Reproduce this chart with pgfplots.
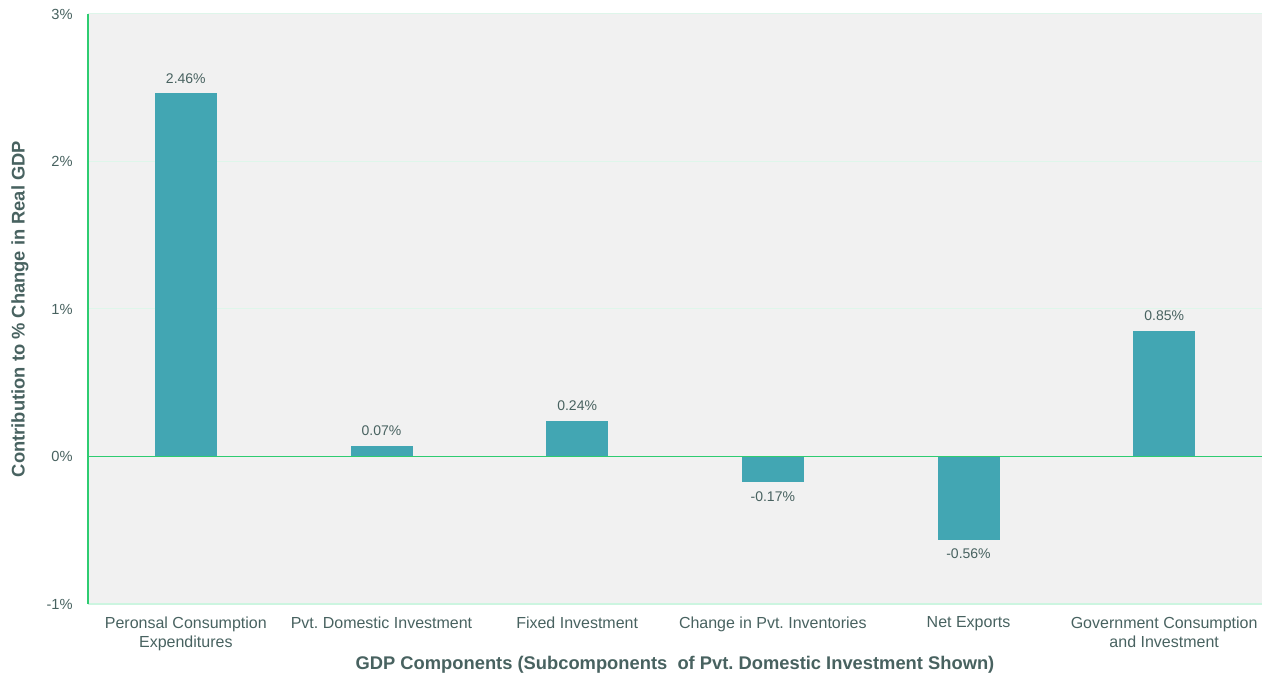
\documentclass[border=0pt]{standalone}
\usepackage{fontspec}
\setmainfont{Liberation Sans}
\usepackage{pgfplots}
\pgfplotsset{compat=1.18}
\frenchspacing
\definecolor{barc}{RGB}{66,166,179}
\definecolor{bgc}{RGB}{241,241,241}
\definecolor{txt}{RGB}{72,98,96}
\definecolor{axg}{RGB}{46,204,113}
\definecolor{gridc}{RGB}{222,246,234}
\definecolor{botc}{RGB}{204,245,224}
\begin{document}
\begin{tikzpicture}
\begin{axis}[
  name=ax,
  scale only axis,
  width=880.5pt, height=442.5pt,
  xmin=-0.5, xmax=5.5, ymin=-1, ymax=3,
  axis background/.style={fill=bgc},
  axis line style={draw=none},
  ybar, bar width=45.75pt, bar shift=0pt,
  xtick={0,1,2,3,4,5},
  xticklabels={Peronsal Consumption\\Expenditures, Pvt. Domestic Investment, Fixed Investment, Change in Pvt. Inventories, Net Exports, Government Consumption\\and Investment},
  xticklabel style={align=center, font=\fontsize{12}{14.6}\selectfont, text=txt, anchor=north, yshift=-6pt},
  ytick={-1,0,1,2,3},
  yticklabels={-1\%,0\%,1\%,2\%,3\%},
  yticklabel style={font=\fontsize{11}{13}\selectfont, text=txt, xshift=-8pt},
  major tick length=0pt,
  ymajorgrids, grid style={color=gridc, line width=0.75pt},
  xlabel={GDP Components (Subcomponents \ of Pvt. Domestic Investment Shown)},
  xlabel style={font=\bfseries\fontsize{13.75}{16}\selectfont, text=txt, at={(axis description cs:0.5,0)}, anchor=center, yshift=-45.5pt},
  ylabel={Contribution to \% Change in Real GDP},
  ylabel style={font=\bfseries\fontsize{13.75}{16}\selectfont, text=txt, at={(axis description cs:0,0.5)}, anchor=center, rotate=0, yshift=51pt},
  point meta=explicit symbolic,
  nodes near coords={\pgfplotspointmeta},
  every node near coord/.append style={font=\fontsize{10.5}{12}\selectfont, text=txt},
  clip=false,
]
\addplot[fill=barc, draw=barc, nodes near coords style={anchor=south, yshift=4pt}] coordinates {
  (0,2.46) [2.46\%]
  (1,0.07) [0.07\%]
  (2,0.24) [0.24\%]
  (5,0.85) [0.85\%]
};
\addplot[fill=barc, draw=barc, nodes near coords style={anchor=north, yshift=-4pt}] coordinates {
  (3,-0.17) [-0.17\%]
  (4,-0.56) [-0.56\%]
};
\draw[botc, line width=1pt] (axis cs:-0.5,-1) -- (axis cs:5.5,-1);
\draw[axg, line width=1pt] (axis cs:-0.5,0) -- (axis cs:5.5,0);
\draw[axg, line width=1pt] (axis cs:-0.5,-1) -- (axis cs:-0.5,3);
\end{axis}
\pgfresetboundingbox
\path ([shift={(-66pt,-54.75pt)}]ax.south west) rectangle ([shift={(4.5pt,10.5pt)}]ax.north east);
\end{tikzpicture}
\end{document}
